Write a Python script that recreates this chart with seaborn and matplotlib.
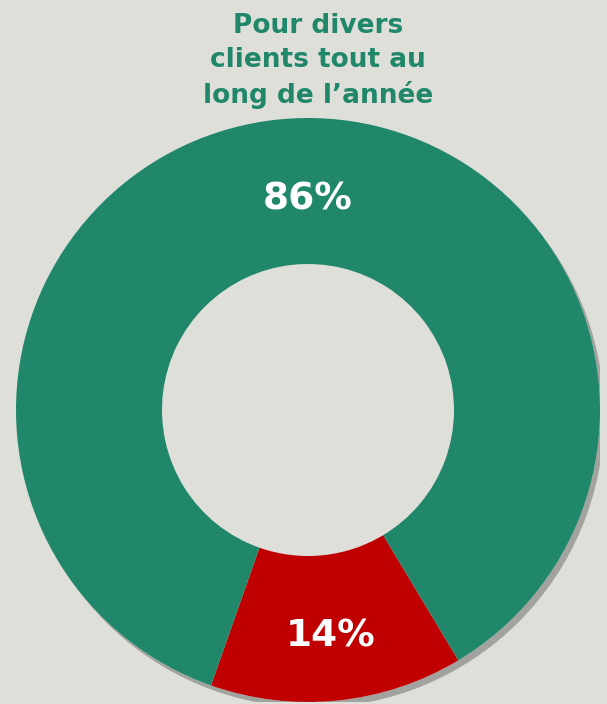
import seaborn as sns
import matplotlib.pyplot as plt
import matplotlib.patheffects as pe
from matplotlib.patches import Circle

labels = ["Pour divers clients tout au long de l'année", "Autres"]
shares = [86, 14]
colors = ["#20876A", "#C00000"]
title = "Pour divers\nclients tout au\nlong de l\u2019année"

bg = "#DFDFDA"
sns.set_theme(style="white")
plt.rcParams['font.family'] = ['DejaVu Sans']

fig = plt.figure(figsize=(6.07, 7.04), dpi=100)
fig.patch.set_facecolor(bg)
ax = fig.add_axes([16/607, 2/704, 584/607, 584/704])
ax.set_facecolor(bg)

# soft shadow only on the outer edge of the ring
disc = Circle((0, 0), 1.0, facecolor=bg, edgecolor="none", zorder=0)
disc.set_path_effects([pe.SimplePatchShadow(offset=(3, -4), shadow_rgbFace="#666666", alpha=0.5), pe.Normal()])
ax.add_patch(disc)

# red slice first, drawn clockwise from the lower right
wedges, texts, autotexts = ax.pie(
    shares[::-1], colors=colors[::-1], startangle=301, counterclock=False,
    wedgeprops=dict(width=0.5, edgecolor="none"),
    autopct="%d%%", pctdistance=0.78,
    textprops=dict(color="white", fontsize=27, fontweight="bold"))

# green label sits at the top of the ring
autotexts[1].set_position((0.0, 0.72))

ax.set_xlim(-1, 1)
ax.set_ylim(-1, 1)
ax.set_aspect("equal")
ax.axis("off")

fig.text(0.524, 0.913, title, ha="center", va="center", color="#20876A",
         fontsize=19, fontweight="bold", linespacing=1.37)

fig.savefig("out.png", dpi=100, facecolor=bg)
